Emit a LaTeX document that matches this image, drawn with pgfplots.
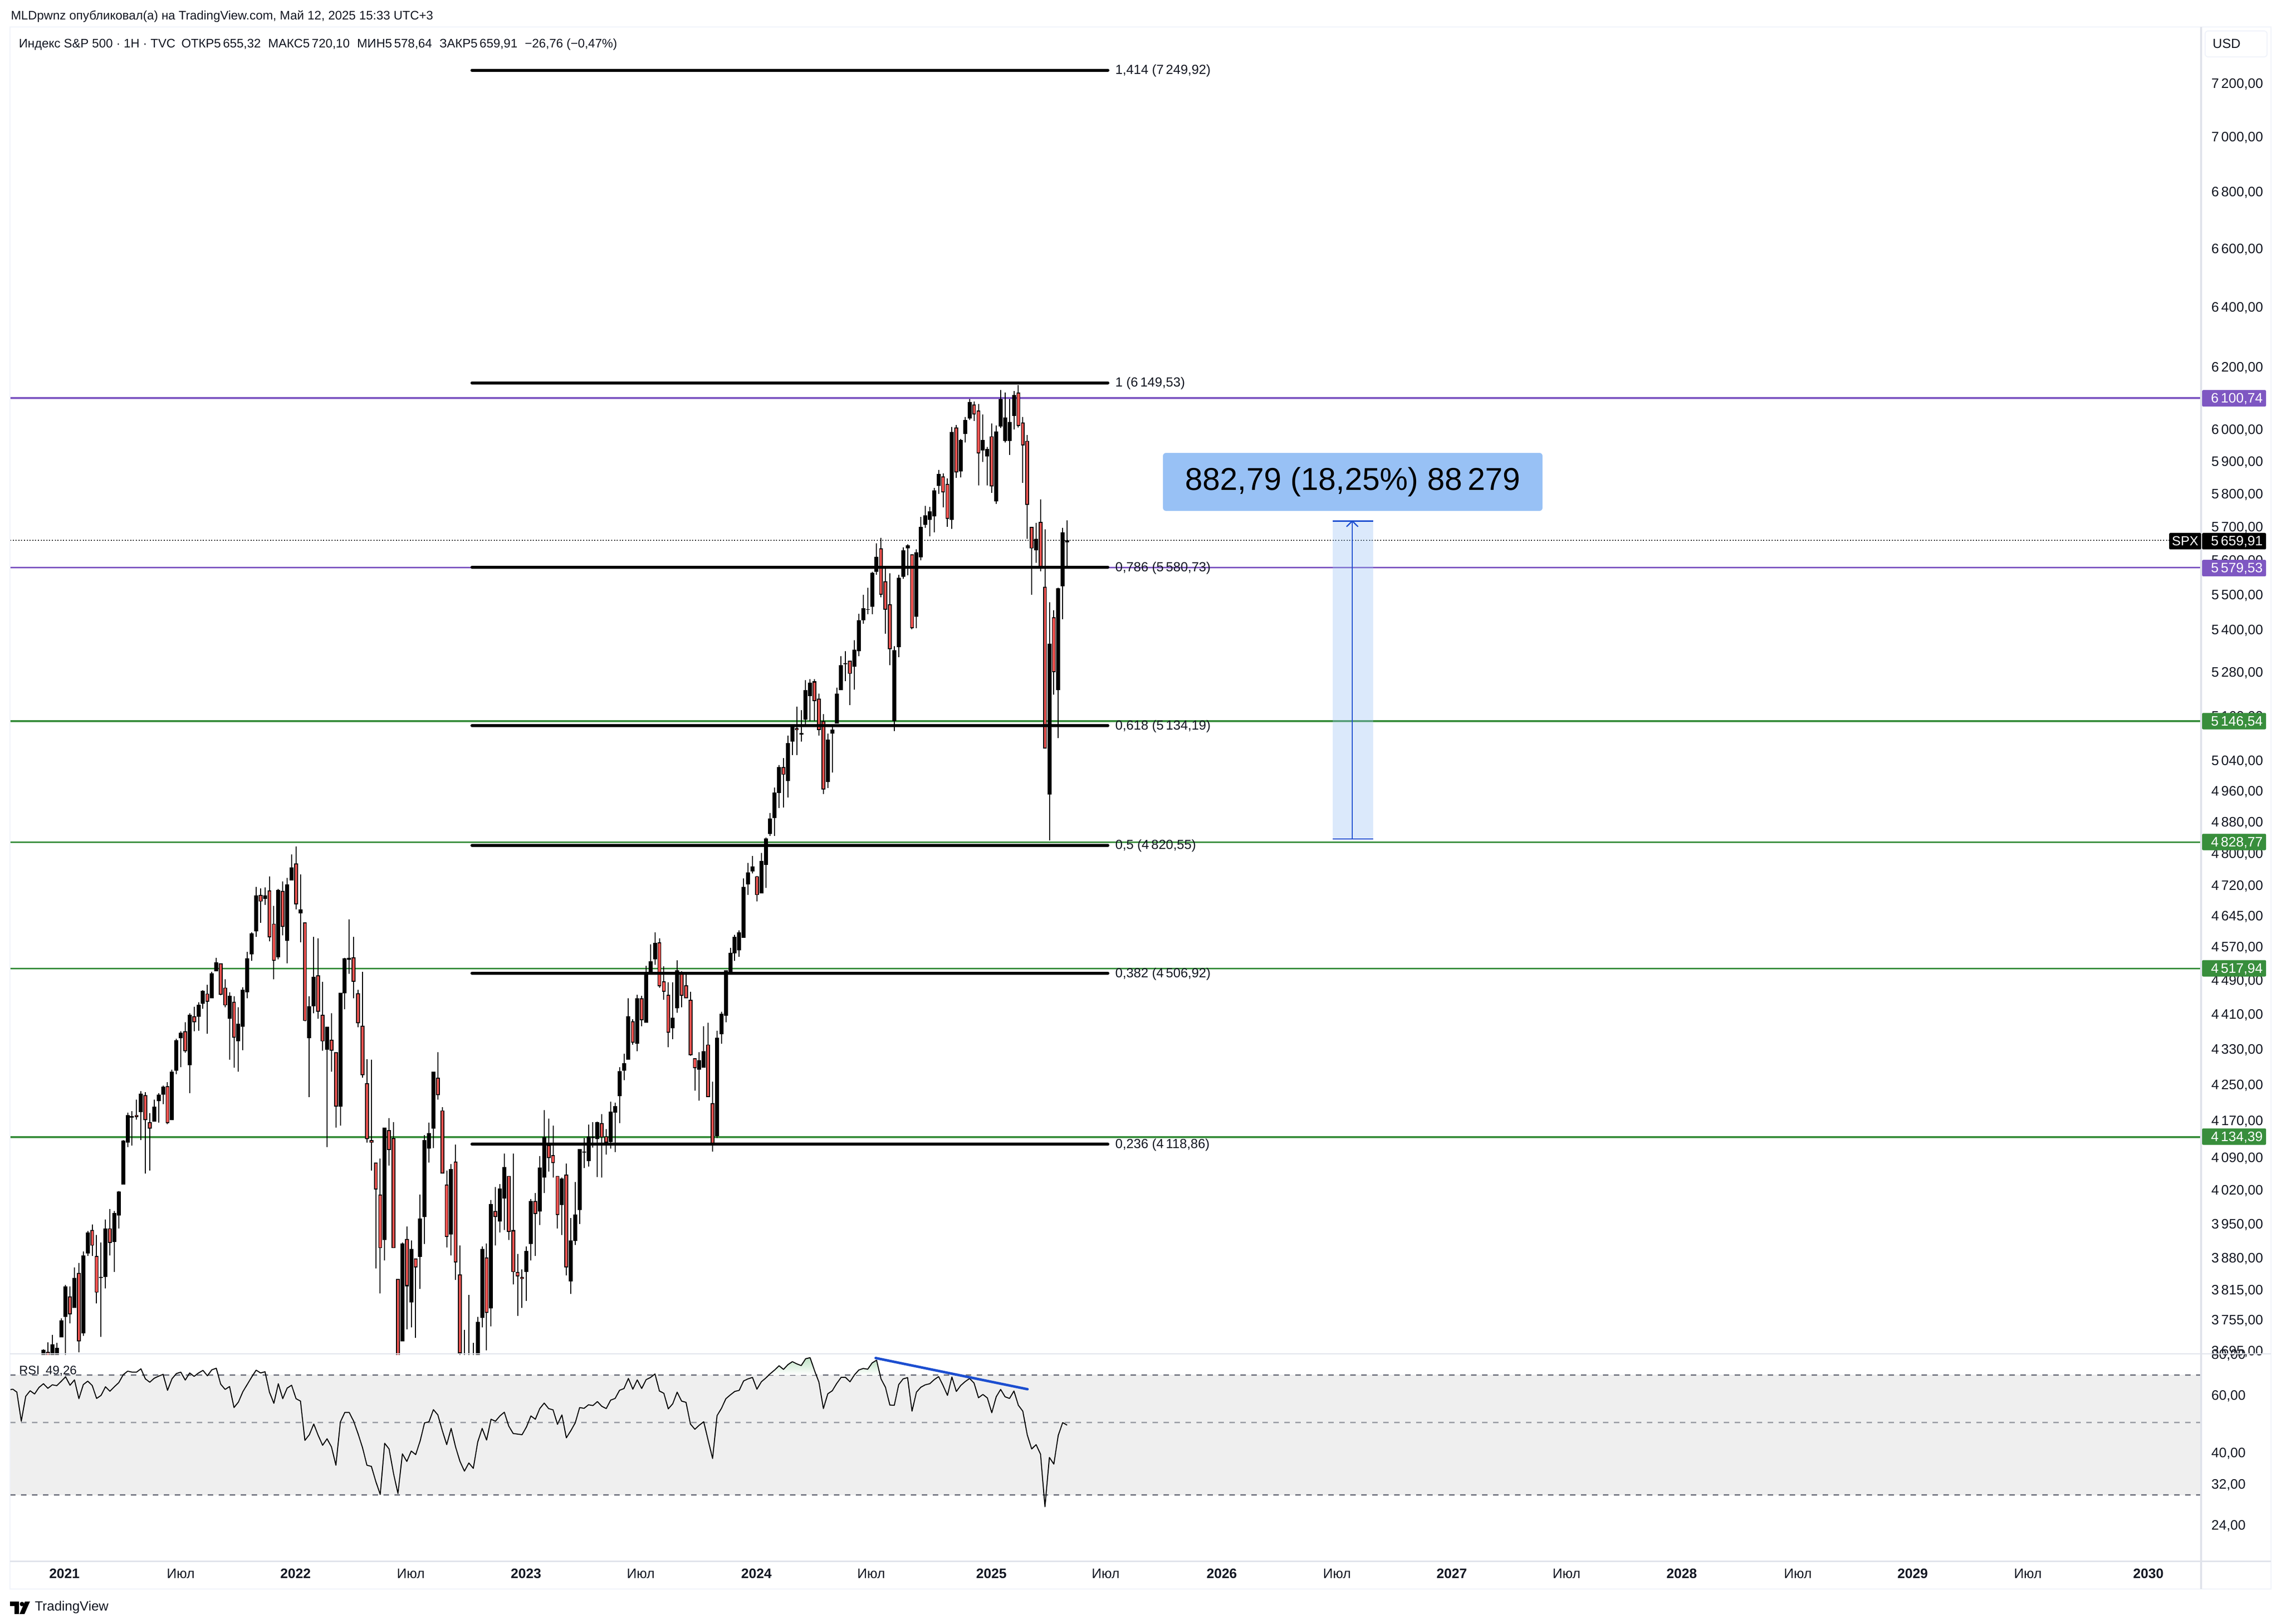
\documentclass[border=0pt]{standalone}
\usepackage{fontspec}
\usepackage{pgfplots}
\usepackage{pgfplotstable}
\pgfplotsset{compat=1.18}
\setmainfont{Liberation Sans}
\definecolor{cred}{RGB}{239,83,80}
\definecolor{cgreen}{RGB}{56,142,60}
\definecolor{cpurple}{RGB}{126,87,194}
\definecolor{cblue}{RGB}{28,78,208}
\definecolor{ctxt}{RGB}{19,23,34}
\definecolor{cframe}{RGB}{240,243,250}
\definecolor{csep}{RGB}{224,227,235}
\definecolor{cband}{RGB}{239,239,239}
\definecolor{cdash}{RGB}{120,123,134}
\definecolor{cbox}{RGB}{152,193,245}
\definecolor{cgr}{RGB}{190,226,196}
\newcommand{\fs}{\fontsize{6.6}{8}\selectfont}
\newcommand{\ft}{\fontsize{6.85}{8}\selectfont}
\newcommand{\fh}{\fontsize{6.2}{8}\selectfont}
% week index, body top, body bottom, high, low
\pgfplotstableread{
w t b h l
0 3697 3640 3698 3630
2 3708 3650 3726 3640
3 3701 3660 3710 3650
4 3754 3721 3759 3721
5 3823 3762 3825 3680
7 3840 3779 3861 3779
9 3885 3729 3893 3724
10 3933 3890 3935 3884
13 3842 3840 3912 3722
14 3941 3842 3959 3818
16 3973 3913 3977 3851
17 4018 3968 4019 3941
18 4127 4032 4128 4032
19 4183 4123 4188 4113
20 4180 4177 4191 4116
22 4230 4189 4236 4128
25 4201 4168 4217 4168
26 4228 4213 4231 4166
27 4246 4228 4248 4207
29 4279 4172 4284 4172
30 4351 4282 4354 4274
31 4368 4355 4371 4289
33 4409 4294 4413 4231
35 4433 4405 4439 4373
36 4465 4435 4467 4423
38 4507 4448 4510 4448
39 4533 4512 4544 4512
42 4454 4400 4462 4306
44 4389 4348 4427 4279
45 4468 4382 4474 4328
46 4542 4462 4558 4448
47 4602 4552 4605 4537
48 4695 4607 4716 4594
50 4695 4687 4715 4672
53 4709 4545 4711 4540
55 4723 4584 4739 4531
56 4765 4732 4797 4732
58 4661 4651 4747 4581
60 4429 4355 4452 4222
61 4498 4429 4594 4413
64 4382 4329 4382 4113
67 4461 4201 4461 4160
68 4542 4460 4544 4422
69 4544 4539 4637 4506
77 4155 3917 4155 3875
81 3910 3713 3912 3713
83 3898 3790 3916 3741
85 3961 3882 4011 3817
86 4128 3964 4139 3909
87 4143 4110 4166 4079
88 4279 4153 4279 4111
92 4066 3928 4076 3885
95 3670 3610 3736 3590
96 3670 3600 3805 3590
97 3680 3620 3710 3600
98 3752 3620 3762 3600
99 3899 3760 3904 3741
101 3992 3778 4000 3743
103 4024 3956 4033 3932
104 4070 4003 4099 3937
109 3894 3851 3904 3793
110 3998 3908 4002 3875
112 4069 3976 4093 3948
113 4135 4047 4194 4014
117 4045 3990 4047 3927
119 3916 3833 3963 3807
120 3970 3915 4038 3907
121 4108 3980 4109 3950
122 4103 4101 4132 4068
123 4136 4083 4162 4071
125 4167 4130 4168 4048
128 4190 4124 4212 4110
129 4202 4188 4210 4102
130 4281 4225 4290 4165
131 4298 4282 4320 4260
132 4406 4306 4448 4306
134 4448 4343 4456 4326
136 4507 4391 4525 4391
137 4535 4506 4576 4506
138 4580 4540 4605 4527
142 4403 4378 4486 4353
143 4514 4425 4538 4414
148 4305 4284 4323 4215
149 4326 4288 4383 4288
152 4356 4137 4372 4132
153 4412 4364 4416 4343
154 4514 4407 4514 4392
155 4556 4507 4567 4507
156 4594 4554 4599 4537
157 4605 4562 4610 4546
158 4716 4592 4737 4592
159 4753 4723 4776 4696
160 4767 4755 4794 4750
162 4781 4700 4801 4700
163 4838 4771 4841 4714
164 4889 4849 4904 4844
165 4956 4891 4970 4844
166 5023 4955 5028 4916
168 5087 4987 5107 4944
169 5134 5091 5137 5055
171 5114 5110 5176 5091
172 5231 5151 5258 5137
173 5251 5215 5261 5146
177 5096 4984 5112 4968
178 5124 5112 5137 5009
179 5221 5140 5238 5140
180 5300 5231 5325 5231
181 5305 5303 5339 5255
183 5343 5296 5371 5232
184 5427 5339 5445 5325
185 5462 5427 5501 5417
186 5459 5457 5521 5444
187 5565 5466 5568 5444
188 5612 5568 5652 5559
192 5342 5146 5354 5119
193 5550 5350 5559 5322
194 5631 5553 5640 5547
195 5646 5636 5649 5557
197 5624 5437 5633 5404
198 5700 5610 5731 5601
199 5736 5707 5764 5697
200 5748 5722 5761 5672
201 5811 5733 5818 5684
202 5861 5825 5874 5800
205 5992 5721 6009 5694
207 5967 5869 5970 5851
208 6030 5987 6041 5960
209 6087 6036 6097 6030
212 5968 5935 6048 5899
213 5940 5916 5946 5826
215 5994 5778 6013 5770
216 6098 6010 6126 6005
217 6038 5965 6118 5960
218 6024 5965 6098 5921
219 6111 6043 6124 6000
224 5665 5631 5712 5594
227 5361 4952 5478 4833
229 5520 5231 5521 5100
230 5684 5525 5698 5430
231 5660 5655 5720 5578
}\tk
\pgfplotstableread{
w t b h l
1 3693 3640 3711 3620
6 3802 3767 3822 3749
8 3850 3713 3870 3692
11 3938 3905 3949 3884
12 3884 3810 3927 3788
15 3941 3911 3982 3885
21 4183 4178 4217 4173
23 4227 4172 4234 4056
24 4167 4153 4187 4062
28 4247 4165 4256 4163
32 4371 4326 4392 4322
34 4406 4392 4428 4371
37 4459 4440 4479 4366
40 4530 4456 4530 4455
41 4473 4431 4492 4427
43 4440 4356 4452 4288
49 4696 4680 4712 4628
51 4708 4593 4742 4583
52 4626 4537 4670 4493
54 4706 4618 4730 4598
57 4775 4673 4818 4661
59 4629 4395 4629 4394
62 4502 4416 4590 4400
63 4409 4348 4487 4327
65 4352 4327 4413 4279
66 4323 4201 4323 4155
70 4545 4487 4594 4448
71 4460 4390 4468 4380
72 4384 4271 4510 4266
73 4253 4130 4307 4123
74 4128 4122 4306 4062
75 4079 4022 4079 3859
76 4011 3900 4088 3809
78 4150 4106 4176 4073
79 4132 3900 4167 3900
80 3837 3600 3837 3560
82 3919 3823 3945 3737
84 3879 3861 3879 3720
89 4266 4227 4323 4217
90 4193 4056 4200 4056
91 4032 3923 4062 3902
93 4081 3871 4118 3836
94 3847 3690 3905 3640
100 3881 3770 3910 3696
102 3977 3965 4027 3905
105 4051 3934 4051 3917
106 3937 3851 4099 3826
107 3852 3843 3888 3763
108 3842 3838 3857 3779
111 3998 3971 4014 3884
114 4117 4089 4175 4060
115 4095 4078 4159 4047
116 4051 3969 4051 3941
118 4054 3861 4077 3845
124 4136 4132 4167 4112
126 4165 4134 4185 4047
127 4136 4123 4152 4097
133 4394 4345 4399 4341
135 4448 4397 4454 4383
139 4581 4476 4590 4472
140 4488 4463 4523 4444
141 4456 4368 4486 4335
144 4507 4454 4511 4427
145 4478 4448 4510 4448
146 4444 4317 4463 4315
147 4310 4287 4310 4237
150 4341 4222 4391 4222
151 4209 4116 4257 4103
161 4743 4696 4744 4680
167 5023 5003 5047 4918
170 5128 5122 5186 5055
174 5255 5201 5261 5146
175 5207 5122 5222 5107
176 5146 4965 5166 4953
182 5313 5276 5313 5190
189 5636 5501 5667 5493
190 5540 5457 5576 5389
191 5473 5345 5563 5300
196 5619 5405 5619 5401
203 5854 5805 5863 5760
204 5831 5724 5848 5700
206 6006 5866 6014 5849
210 6079 6048 6089 6027
211 6060 5925 6082 5827
214 5979 5823 6019 5803
220 6119 6011 6143 6006
221 6022 5950 6041 5834
222 5965 5767 5983 5664
223 5701 5636 5701 5501
225 5715 5578 5783 5569
226 5523 5072 5693 5072
228 5436 5281 5456 5219
}\tr
\pgfplotstableread{
w v
-7.5 63.1
-6.9 63.3
-6 62.0
-5 50.5
-4 60.2
-3 62.6
-2 61.2
-1 64.1
0 65.8
1 63.7
2 65.3
3 64.9
4 66.9
5 69.1
6 65.1
7 67.6
8 59.2
9 65.4
10 67.0
11 65.0
12 59.3
13 60.6
14 64.4
15 62.4
16 64.4
17 66.3
18 70.1
19 71.9
20 71.4
21 71.4
22 73.1
23 68.1
24 66.5
25 68.4
26 69.4
27 70.3
28 62.8
29 68.1
30 70.7
31 71.4
32 67.5
33 71.0
34 69.3
35 71.0
36 72.3
37 69.6
38 72.6
39 73.4
40 65.6
41 63.2
42 64.5
43 55.6
44 57.8
45 62.2
46 65.5
47 69.0
48 72.4
49 71.0
50 71.6
51 62.0
52 57.3
53 65.8
54 59.2
55 63.8
56 65.1
57 59.2
58 58.2
59 44.1
60 45.9
61 49.5
62 45.7
63 42.6
64 44.6
65 42.1
66 37.0
67 50.2
68 53.7
69 53.7
70 50.5
71 46.2
72 41.9
73 37.0
74 36.7
75 33.0
76 30.1
77 43.2
78 41.5
79 34.9
80 30.3
81 40.1
82 38.0
83 40.9
84 39.9
85 43.9
86 49.9
87 50.3
88 54.8
89 52.8
90 47.3
91 42.8
92 48.0
93 42.1
94 38.0
95 35.5
96 37.6
97 36.2
98 43.6
99 48.0
100 44.2
101 51.2
102 50.5
103 52.4
104 53.8
105 48.8
106 46.3
107 46.1
108 45.9
109 48.5
110 52.4
111 51.2
112 55.2
113 57.4
114 55.2
115 54.7
116 49.4
117 52.8
118 44.9
119 47.2
120 49.9
121 55.6
122 55.3
123 56.7
124 56.4
125 58.0
126 56.1
127 55.2
128 58.6
129 59.3
130 62.8
131 63.6
132 68.3
133 63.3
134 67.6
135 63.6
136 67.7
137 68.8
138 70.5
139 62.5
140 61.5
141 55.1
142 57.1
143 62.0
144 58.2
145 57.7
146 49.5
147 47.7
148 49.1
149 50.3
150 44.1
151 38.8
152 52.5
153 55.3
154 59.2
155 60.8
156 62.3
157 62.8
158 67.1
159 68.1
160 68.8
161 63.3
162 66.7
163 68.5
164 70.6
165 72.5
166 74.7
167 72.8
168 75.3
169 76.9
170 75.7
171 74.8
172 78.5
173 79.1
174 72.2
175 66.5
176 55.2
177 61.3
178 62.6
179 65.9
180 68.8
181 68.8
182 66.7
183 70.0
184 72.5
185 73.3
186 72.9
187 76.2
188 77.7
189 68.1
190 64.2
191 56.6
192 56.5
193 65.4
194 68.1
195 68.7
196 54.2
197 62.0
198 64.2
199 65.3
200 65.8
201 67.7
202 69.2
203 65.0
204 60.6
205 69.0
206 62.3
207 65.0
208 66.8
209 68.3
210 66.1
211 59.6
212 61.0
213 59.5
214 53.6
215 60.0
216 63.2
217 60.0
218 59.3
219 62.5
220 56.5
221 54.2
222 45.9
223 41.5
224 42.8
225 40.0
226 27.6
227 39.1
228 37.3
229 45.7
230 50.0
231 49.1
}\rsi
\begin{document}
\begin{tikzpicture}
\useasboundingbox (0,0) rectangle (1142pt,-813pt);
\fill[white] (0,0) rectangle (1142pt,-813pt);
% ---------- price pane
\begin{axis}[at={(5pt,-678.1pt)},anchor=south west,scale only axis,width=1097pt,height=664.25pt,
 ymode=log,xmin=-7.55,xmax=486.9,ymin=3688,ymax=7415,
 axis line style={draw=none},tick style={draw=none},major tick length=0pt,xtick=\empty,yminorticks=false,
 yticklabel pos=right,
 ytick={7200,7000,6800,6600,6400,6200,6000,5900,5800,5700,5600,5500,5400,5280,5160,5040,4960,4880,4800,4720,4645,4570,4490,4410,4330,4250,4170,4090,4020,3950,3880,3815,3755,3695},
 yticklabels={{7\,200,00},{7\,000,00},{6\,800,00},{6\,600,00},{6\,400,00},{6\,200,00},{6\,000,00},{5\,900,00},{5\,800,00},{5\,700,00},{5\,600,00},{5\,500,00},{5\,400,00},{5\,280,00},{5\,160,00},{5\,040,00},{4\,960,00},{4\,880,00},{4\,800,00},{4\,720,00},{4\,645,00},{4\,570,00},{4\,490,00},{4\,410,00},{4\,330,00},{4\,250,00},{4\,170,00},{4\,090,00},{4\,020,00},{3\,950,00},{3\,880,00},{3\,815,00},{3\,755,00},{3\,695,00}},
 yticklabel style={font=\ft,text=ctxt,anchor=west,xshift=1.6pt,yshift=-0.35pt},
]
% horizontal rays
\addplot[cpurple,line width=0.9pt] coordinates {(-7.55,6100.74)(486.9,6100.74)};
\addplot[cpurple,line width=0.9pt] coordinates {(-7.55,5579.53)(486.9,5579.53)};
\addplot[cgreen,line width=0.9pt] coordinates {(-7.55,5146.54)(486.9,5146.54)};
\addplot[cgreen,line width=0.9pt] coordinates {(-7.55,4828.77)(486.9,4828.77)};
\addplot[cgreen,line width=0.9pt] coordinates {(-7.55,4517.94)(486.9,4517.94)};
\addplot[cgreen,line width=0.9pt] coordinates {(-7.55,4134.39)(486.9,4134.39)};
\addplot[black,line width=0.4pt,dash pattern=on 0.5pt off 0.9pt] coordinates {(-7.55,5659.91)(479.7,5659.91)};
% ruler
\addplot[fill=cbox,fill opacity=0.35,draw=none] coordinates {(290.96,4837)(300.09,4837)(300.09,5718)(290.96,5718)} --cycle;
\addplot[cblue,line width=0.6pt] coordinates {(290.96,5718)(300.09,5718)};
\addplot[cblue,line width=0.6pt] coordinates {(290.96,4837)(300.09,4837)};
\addplot[cblue,line width=0.6pt] coordinates {(295.35,4837)(295.35,5718)};
\addplot[cblue,line width=0.6pt] coordinates {(294.05,5701)(295.35,5718)(296.65,5701)};
% candles: wicks
\addplot[draw=none,mark=none,error bars/.cd,y dir=both,y explicit,error mark=none,error bar style={draw=black,solid,line width=0.5pt}]
 table[x=w,y=t,y error plus expr={\thisrow{h}-\thisrow{t}},y error minus expr={\thisrow{t}-\thisrow{l}}] {\tk};
\addplot[draw=none,mark=none,error bars/.cd,y dir=both,y explicit,error mark=none,error bar style={draw=black,solid,line width=0.5pt}]
 table[x=w,y=t,y error plus expr={\thisrow{h}-\thisrow{t}},y error minus expr={\thisrow{t}-\thisrow{l}}] {\tr};
% candles: bodies
\addplot[draw=none,mark=none,error bars/.cd,y dir=minus,y explicit,error mark=none,error bar style={draw=black,solid,line width=2pt}]
 table[x=w,y=t,y error minus expr={\thisrow{t}-\thisrow{b}}] {\tk};
\addplot[draw=none,mark=none,error bars/.cd,y dir=minus,y explicit,error mark=none,error bar style={draw=black,solid,line width=1.9pt}]
 table[x=w,y=t,y error minus expr={\thisrow{t}-\thisrow{b}}] {\tr};
\addplot[draw=none,mark=none,error bars/.cd,y dir=minus,y explicit,error mark=none,error bar style={draw=cred,solid,line width=1.05pt}]
 table[x=w,y expr={\thisrow{t}*0.9995},y error minus expr={max(0,\thisrow{t}*0.9995-\thisrow{b}*1.0005)}] {\tr};
% fibonacci levels
\addplot[black,line width=1.5pt,line cap=round] coordinates {(96.7,7249.92)(240.2,7249.92)};
\addplot[black,line width=1.5pt,line cap=round] coordinates {(96.7,6149.53)(240.2,6149.53)};
\addplot[black,line width=1.5pt,line cap=round] coordinates {(96.7,5580.73)(240.2,5580.73)};
\addplot[black,line width=1.5pt,line cap=round] coordinates {(96.7,5134.19)(240.2,5134.19)};
\addplot[black,line width=1.5pt,line cap=round] coordinates {(96.7,4820.55)(240.2,4820.55)};
\addplot[black,line width=1.5pt,line cap=round] coordinates {(96.7,4506.92)(240.2,4506.92)};
\addplot[black,line width=1.5pt,line cap=round] coordinates {(96.7,4118.86)(240.2,4118.86)};
\begin{scope}[every node/.style={anchor=west,inner sep=0pt,font=\fs,text=ctxt,yshift=-0.35pt}]
\node at (axis cs:241.8,7249.92) {1,414 (7\,249,92)};
\node at (axis cs:241.8,6149.53) {1 (6\,149,53)};
\node at (axis cs:241.8,5580.73) {0,786 (5\,580,73)};
\node at (axis cs:241.8,5134.19) {0,618 (5\,134,19)};
\node at (axis cs:241.8,4820.55) {0,5 (4\,820,55)};
\node at (axis cs:241.8,4506.92) {0,382 (4\,506,92)};
\node at (axis cs:241.8,4118.86) {0,236 (4\,118,86)};
\end{scope}
\end{axis}
% ---------- RSI pane
\begin{axis}[at={(5pt,-781.625pt)},anchor=south west,scale only axis,width=1097pt,height=103.875pt,
 ymode=log,xmin=-7.55,xmax=486.9,ymin=18.77,ymax=81.25,
 axis line style={draw=none},tick style={draw=none},major tick length=0pt,yminorticks=false,
 yticklabel pos=right,
 ytick={80,60,40,32,24},yticklabels={{80,00},{60,00},{40,00},{32,00},{24,00}},
 yticklabel style={font=\ft,text=ctxt,anchor=west,xshift=1.6pt,yshift=0.35pt},
 xtick={4.73,30.99,56.9,82.9,108.9,134.8,160.9,186.8,213.9,239.7,265.9,291.9,317.8,343.7,369.7,395.9,421.8,447.8,475.0},
 xticklabels={\textbf{2021},Июл,\textbf{2022},Июл,\textbf{2023},Июл,\textbf{2024},Июл,\textbf{2025},Июл,\textbf{2026},Июл,\textbf{2027},Июл,\textbf{2028},Июл,\textbf{2029},Июл,\textbf{2030}},
 xticklabel style={font=\ft,text=ctxt,anchor=center,yshift=-6.1pt},
]
\addplot[fill=cband,draw=none] coordinates {(-7.55,30)(486.9,30)(486.9,70)(-7.55,70)} --cycle;
\addplot[cdash,line width=0.6pt,dash pattern=on 2.75pt off 2.75pt] coordinates {(-7.55,70)(486.9,70)};
\addplot[cdash!70,line width=0.6pt,dash pattern=on 2.75pt off 2.75pt] coordinates {(-7.55,50)(486.9,50)};
\addplot[cdash,line width=0.6pt,dash pattern=on 2.75pt off 2.75pt] coordinates {(-7.55,30)(486.9,30)};
\addplot[draw=none,top color=cgr,bottom color=white] coordinates {(163.7,70)(164,70.6)(165,72.5)(166,74.7)(167,72.8)(168,75.3)(169,76.9)(170,75.7)(171,74.8)(172,78.5)(173,79.1)(174,72.2)(174.3,70)} --cycle;
\addplot[draw=none,top color=cgr,bottom color=white] coordinates {(183,70)(184,72.5)(185,73.3)(186,72.9)(187,76.2)(188,77.7)(188.8,70)} --cycle;
\addplot[black,line width=0.5pt,line join=round,mark=none] table[x=w,y=v] {\rsi};
\addplot[cblue,line width=1.25pt,line cap=round] coordinates {(187.8,78.9)(222.06,63.3)};
\end{axis}
% ---------- frames, header, tags (picture pixels)
\begin{scope}[x=0.25pt,y=-0.25pt]
\draw[cframe,line width=0.7pt] (20,54) -- (4548,54) -- (4548,3182) -- (20,3182) -- cycle;
\draw[csep,line width=0.7pt] (20,2711) -- (4548,2711);
\draw[csep,line width=0.7pt] (20,3126.5) -- (4548,3126.5);
\draw[csep,line width=0.8pt] (4408,54) -- (4408,3182);
\node[anchor=base west,inner sep=0pt,font=\fh,text=ctxt] at (21,40) {MLDpwnz опубликовал(а) на TradingView.com, Май 12, 2025 15:33 UTC+3};
\node[anchor=base west,inner sep=0pt,font=\fh,text=ctxt] at (37,96) {Индекс S\&P 500 · 1H · TVC\hspace{3pt}ОТКР5\,655,32\hspace{3.7pt}МАКС5\,720,10\hspace{3.7pt}МИН5\,578,64\hspace{3.7pt}ЗАКР5\,659,91\hspace{3.7pt}−26,76 (−0,47\%)};
\node[anchor=base west,inner sep=0pt,font=\fh,text=ctxt] at (37.5,2752) {RSI\hspace{3pt}49,26};
\draw[cframe,line width=0.5pt,rounded corners=1.5pt] (4416,62) rectangle (4540,114);
\node[inner sep=0pt,font=\fs,text=ctxt] at (4459,87) {USD};
\fill[cbox,rounded corners=1.5pt] (2329,907) rectangle (3089,1023);
\node[inner sep=0pt,font=\fontsize{15.8}{18}\selectfont,text=black] at (2709,965) {882,79 (18,25\%) 88\,279};
% price tags
\newcommand{\tagp}[3]{\fill[#1,rounded corners=0.6pt] (4410,#2-16.5) rectangle (4538,#2+16.5);
 \node[anchor=west,inner sep=0pt,font=\ft,text=white,yshift=-0.3pt] at (4427,#2) {#3};}
\tagp{cpurple}{797.6}{6\,100,74}
\tagp{black}{1083.7}{5\,659,91}
\tagp{cpurple}{1137.6}{5\,579,53}
\tagp{cgreen}{1444}{5\,146,54}
\tagp{cgreen}{1686}{4\,828,77}
\tagp{cgreen}{1939}{4\,517,94}
\tagp{cgreen}{2276}{4\,134,39}
\fill[black,rounded corners=0.6pt] (4344,1067.2) rectangle (4408,1100.2);
\node[inner sep=0pt,font=\fs,text=white] at (4376,1083.7) {SPX};
% logo
\fill[black] (20,3207) -- (38,3207) -- (38,3232) -- (29,3232) -- (29,3216) -- (20,3216) -- cycle;
\fill[black] (44,3212) circle (4.5);
\fill[black] (50,3207) -- (60,3207) -- (49,3232) -- (39,3232) -- cycle;
\node[anchor=west,inner sep=0pt,font=\fontsize{6.7}{8}\selectfont,text=ctxt] at (69,3219) {TradingView};
\end{scope}
\end{tikzpicture}
\end{document}
